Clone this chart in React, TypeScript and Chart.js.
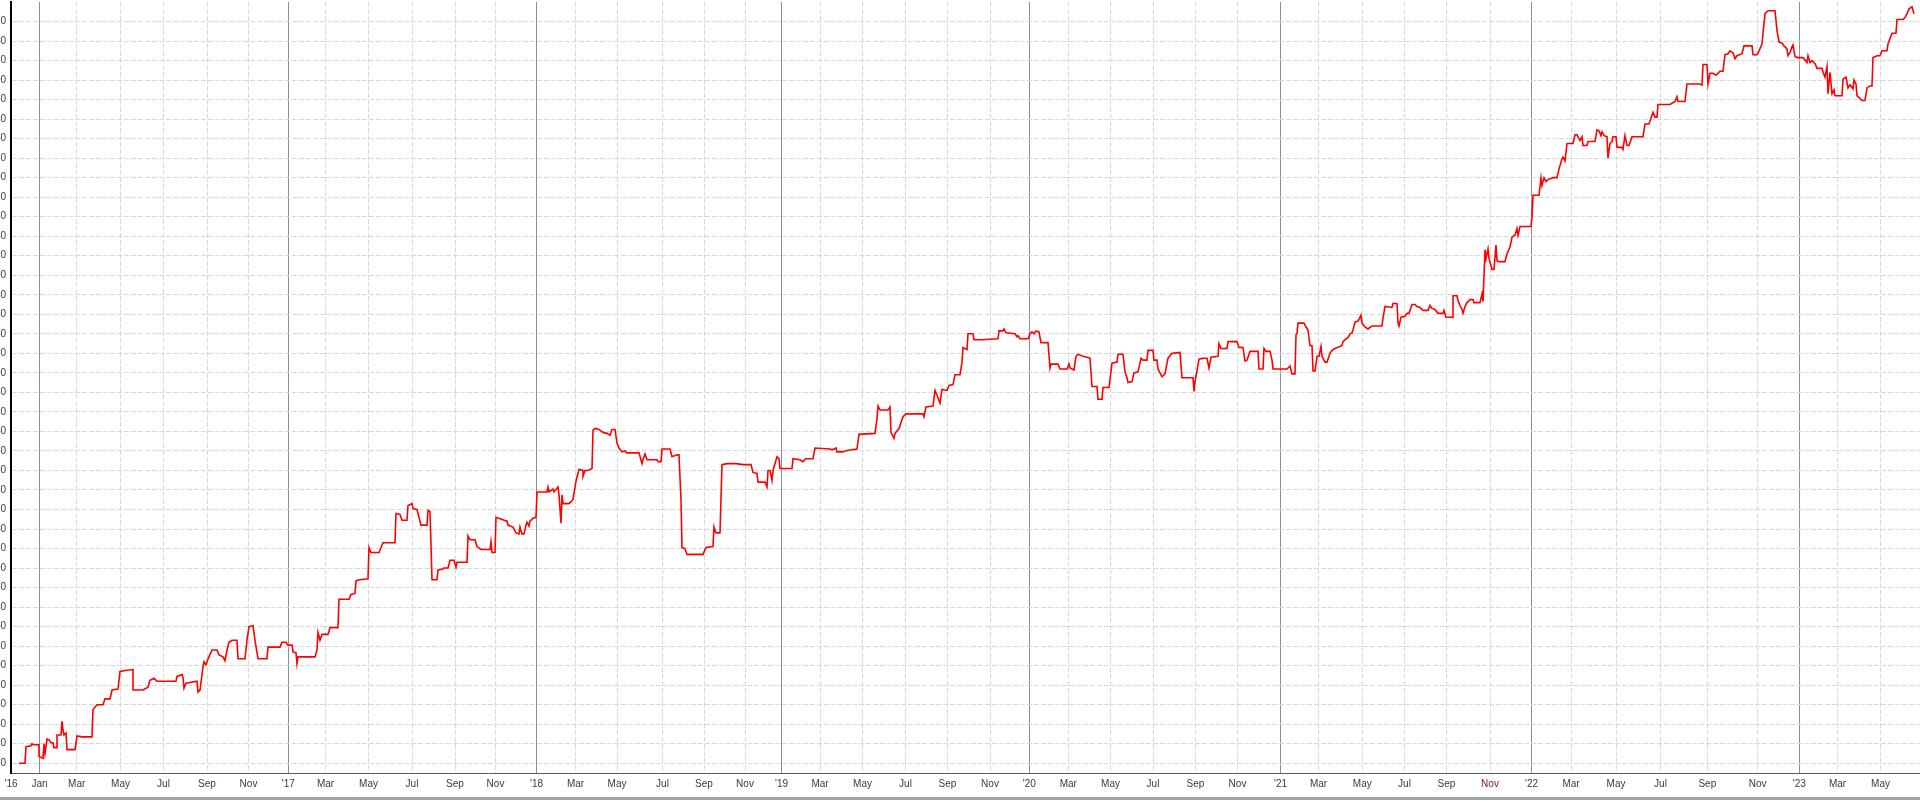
import { useEffect, useRef } from "react";
import { Chart, registerables } from "chart.js";

Chart.register(...registerables);

// x axis: trading-session index from the start of the axis
const tickSessions = [
  0, 28.5, 65.7, 109.5, 152.5, 196, 237.5,
  277.3, 314.5, 357.5, 401, 444, 484.5,
  525.5, 564.5, 606, 651.5, 693, 734,
  770.5, 809, 851.5, 894.5, 936.5, 979,
  1018.3, 1057.3, 1099.5, 1142, 1184.5, 1226.5,
  1269.5, 1307.5, 1351.3, 1393.5, 1435.5, 1479,
  1520.5, 1560, 1605, 1649.5, 1696.3, 1746.7,
  1788.3, 1826.5, 1869.5,
];
const tickLabels = [
  "'16", "Jan", "Mar", "May", "Jul", "Sep", "Nov",
  "'17", "Mar", "May", "Jul", "Sep", "Nov",
  "'18", "Mar", "May", "Jul", "Sep", "Nov",
  "'19", "Mar", "May", "Jul", "Sep", "Nov",
  "'20", "Mar", "May", "Jul", "Sep", "Nov",
  "'21", "Mar", "May", "Jul", "Sep", "Nov",
  "'22", "Mar", "May", "Jul", "Sep", "Nov",
  "'23", "Mar", "May",
];
const highlightedTickIndex = 36;
const xMin = 0;
const xMax = 1909;
const yMin = -10;
const yMax = 780;
const yTickStep = 20;
const yTickTop = 760;

// [session, value]
const y2016 = [
  [8,0],[14,0],[15,17],[20,18],[21,20],[22,19],[28,19],[28,7],[32,5],[33,20],[34,10],[36,25],[38,24],[40,21],[42,21],[43,16],[46,16],[46,29],[50,29],[51,43],[52,34],[53,29],[55,31],[56,14],[64,14],[66,28],[71,27],[72,27],[81,27],[82,55],[86,60],[92,60],[94,66],[99,66],[101,75],[107,76],[109,94],[114,95],[122,96],[122,75],[132,75],[137,78],[139,85],[143,87],[146,84],[156,84],[165,84],[166,89],[171,91],[172,88],[173,77],[175,82],[186,84],[187,73],[189,75],[192,99],[193,104],[195,101],[197,107],[201,116],[206,116],[208,111],[212,109],[214,105],[216,116],[218,124],[221,126],[226,126],[227,107],[234,107],[236,126],[238,140],[242,141],[244,126],[247,107],[256,107],[257,119],[269,119],[271,124],[275,124],
];
const y2017 = [
  [277,121],[281,121],[282,114],[285,113],[286,102],[287,109],[290,109],[304,109],[306,116],[307,134],[309,126],[311,132],[317,132],[319,139],[327,139],[328,168],[338,168],[340,173],[344,174],[345,187],[349,188],[357,189],[358,221],[360,216],[368,216],[372,226],[384,226],[385,256],[389,255],[391,249],[396,249],[397,264],[401,266],[402,261],[406,260],[410,244],[416,244],[417,259],[419,258],[420,224],[421,188],[426,188],[427,198],[432,199],[433,200],[437,200],[439,208],[443,208],[445,201],[446,206],[456,206],[457,233],[459,229],[464,229],[466,222],[470,219],[479,219],[480,227],[481,216],[484,216],[485,252],[496,248],[497,244],[502,242],[505,236],[508,235],[509,242],[511,235],[513,235],[515,244],[516,247],[518,243],[519,248],[522,251],[525,252],
];
const y2018 = [
  [526,278],[536,278],[537,283],[538,278],[542,281],[543,278],[547,283],[548,275],[550,246],[551,275],[552,266],[558,266],[562,270],[565,289],[568,301],[572,300],[572,294],[574,300],[577,300],[581,302],[582,341],[584,343],[588,342],[592,339],[596,338],[599,336],[601,342],[604,342],[606,328],[608,323],[611,319],[614,320],[616,318],[628,318],[631,307],[632,311],[634,317],[636,311],[646,311],[647,309],[650,309],[651,322],[659,322],[661,314],[666,316],[668,316],[670,270],[671,221],[674,220],[676,214],[692,214],[695,221],[702,222],[703,242],[705,236],[709,236],[711,306],[716,307],[725,307],[732,306],[740,306],[742,298],[746,297],[747,288],[754,288],[756,283],[757,300],[759,300],[761,290],[762,300],[766,314],[768,312],[769,302],
];
const y2019 = [
  [781,302],[782,312],[789,311],[792,309],[795,312],[802,312],[804,323],[819,322],[821,321],[825,323],[826,319],[832,319],[834,320],[839,321],[846,322],[848,337],[864,338],[866,353],[867,366],[869,362],[877,362],[879,365],[880,339],[883,333],[884,338],[888,343],[892,355],[895,358],[912,358],[913,355],[915,365],[922,366],[924,382],[926,377],[929,369],[931,383],[936,382],[938,387],[942,388],[944,398],[949,398],[951,411],[952,426],[956,424],[957,440],[962,440],[963,434],[971,434],[987,435],[988,443],[992,443],[993,445],[995,441],[1004,440],[1006,437],[1007,438],[1009,435],[1017,435],
];
const y2020 = [
  [1019,440],[1021,442],[1023,440],[1025,443],[1028,442],[1030,431],[1037,431],[1039,405],[1040,409],[1047,409],[1049,404],[1056,404],[1058,409],[1059,405],[1063,403],[1065,417],[1067,419],[1072,417],[1076,416],[1079,415],[1081,386],[1086,386],[1087,373],[1091,373],[1092,385],[1098,385],[1101,410],[1106,411],[1107,419],[1112,419],[1114,401],[1116,395],[1117,390],[1121,391],[1123,400],[1127,401],[1130,415],[1132,413],[1136,413],[1137,423],[1142,423],[1143,413],[1146,413],[1147,404],[1151,396],[1154,399],[1157,415],[1161,420],[1169,421],[1171,395],[1182,395],[1183,381],[1184,391],[1186,402],[1188,414],[1192,415],[1196,415],[1198,405],[1200,416],[1207,417],[1208,430],[1210,425],[1216,425],[1217,432],[1226,432],[1228,426],[1232,426],[1234,412],[1236,413],[1239,422],[1247,422],[1248,404],[1252,404],[1253,425],[1255,422],[1259,422],[1261,413],[1262,404],[1268,404],
];
const y2021 = [
  [1276,404],[1279,407],[1281,399],[1284,399],[1285,439],[1286,440],[1287,451],[1293,451],[1295,447],[1297,444],[1299,428],[1301,428],[1302,402],[1304,402],[1306,417],[1308,417],[1310,427],[1311,417],[1312,415],[1314,411],[1316,411],[1319,420],[1321,423],[1324,425],[1329,427],[1331,428],[1332,432],[1334,434],[1337,436],[1339,440],[1341,441],[1342,444],[1344,452],[1347,453],[1350,459],[1351,451],[1354,447],[1357,445],[1361,448],[1371,448],[1372,456],[1374,468],[1381,467],[1382,471],[1386,471],[1387,451],[1388,448],[1390,457],[1394,458],[1396,461],[1398,461],[1401,470],[1404,470],[1406,468],[1409,467],[1412,464],[1417,464],[1419,469],[1421,466],[1424,465],[1427,461],[1432,461],[1433,464],[1435,457],[1442,457],[1442,479],[1446,479],[1447,474],[1449,469],[1451,465],[1452,461],[1454,468],[1456,472],[1459,475],[1462,475],[1463,472],[1469,472],[1471,481],[1472,473],[1474,526],[1475,517],[1477,527],[1478,517],[1481,506],[1483,506],[1485,531],[1486,515],[1487,514],[1494,514],[1496,522],[1499,529],[1501,539],[1504,541],[1506,548],[1507,541],[1509,550],[1520,550],
];
const y2022 = [
  [1521,560],[1522,582],[1528,582],[1530,600],[1531,592],[1533,600],[1535,596],[1537,598],[1542,600],[1546,600],[1548,609],[1551,619],[1552,621],[1554,617],[1556,635],[1562,635],[1564,644],[1566,644],[1569,638],[1571,642],[1572,633],[1576,633],[1577,637],[1584,637],[1586,649],[1588,648],[1590,643],[1591,647],[1593,643],[1596,642],[1597,620],[1599,635],[1601,637],[1602,642],[1605,642],[1606,631],[1611,631],[1612,629],[1614,643],[1616,633],[1618,633],[1621,642],[1626,642],[1632,642],[1634,655],[1638,655],[1641,664],[1642,667],[1644,662],[1646,662],[1647,675],[1659,675],[1664,678],[1666,683],[1667,678],[1674,678],[1676,696],[1689,696],[1691,695],[1692,716],[1696,716],[1697,696],[1699,707],[1702,707],[1705,705],[1709,709],[1712,709],[1714,726],[1717,727],[1719,730],[1722,728],[1724,722],[1726,725],[1731,727],[1733,735],[1741,735],[1742,726],[1746,726],[1748,730],[1751,737],[1752,748],[1754,768],[1757,771],[1764,771],[1766,751],[1768,739],[1771,738],[1773,735],[1776,732],[1777,725],[1779,728],[1781,734],[1782,736],[1784,724],[1787,723],
];
const y2023 = [
  [1792,723],[1796,718],[1797,725],[1799,718],[1801,720],[1804,717],[1806,712],[1811,712],[1812,708],[1814,703],[1816,714],[1817,686],[1819,708],[1821,686],[1823,690],[1824,684],[1831,684],[1832,701],[1835,703],[1837,692],[1839,695],[1842,691],[1843,700],[1845,696],[1846,684],[1851,679],[1854,679],[1856,692],[1859,694],[1861,694],[1862,723],[1866,725],[1869,725],[1871,730],[1876,730],[1877,737],[1881,748],[1883,748],[1885,748],[1886,762],[1892,762],[1894,764],[1896,768],[1898,773],[1901,775],[1903,768],
];

const FONT = "'Liberation Sans Narrow', 'Liberation Sans', Arial, sans-serif";
const LABEL_COLOR = "#333b4f";

function isYearTick(index: number): boolean {
  const l = tickLabels[index];
  if (index === 0) return false;
  return l === "Jan" || l.startsWith("'");
}

export default function App() {
  const ref = useRef<HTMLCanvasElement | null>(null);

  useEffect(() => {
    if (!ref.current) return;
    const all = [...y2016, ...y2017, ...y2018, ...y2019, ...y2020, ...y2021, ...y2022, ...y2023];
    const data = all.map(([x, y]) => ({ x, y }));
    const yTicks: number[] = [];
    for (let v = 0; v <= yTickTop; v += yTickStep) yTicks.push(v);

    const chart = new Chart(ref.current, {
      type: "line",
      data: {
        datasets: [
          {
            data,
            borderColor: "#ff0000",
            borderWidth: 1.6,
            pointRadius: 0,
            tension: 0,
            fill: false,
          },
        ],
      },
      options: {
        animation: false,
        responsive: false,
        maintainAspectRatio: false,
        layout: { padding: { top: 2, right: 0, bottom: 0, left: 0 } },
        plugins: { legend: { display: false }, tooltip: { enabled: false } },
        scales: {
          x: {
            type: "linear",
            min: xMin,
            max: xMax,
            afterBuildTicks: (s: any) => {
              s.ticks = tickSessions.map((v) => ({ value: v }));
            },
            afterFit: (s: any) => {
              s.height = 29;
              s.paddingLeft = 0;
              s.paddingRight = 0;
            },
            ticks: {
              autoSkip: false,
              maxRotation: 0,
              minRotation: 0,
              padding: 5,
              font: { family: FONT, size: 10 },
              color: (ctx: any) => (ctx.index === highlightedTickIndex ? "#7a1414" : LABEL_COLOR),
              callback: (_v: any, i: number) => tickLabels[i],
            },
            grid: {
              drawTicks: false,
              lineWidth: 1,
              color: (ctx: any) => {
                if (ctx.index === 0) return "rgba(0,0,0,0)";
                return isYearTick(ctx.index) ? "#8e8e8e" : "#d9d9d9";
              },
            },
            border: {
              color: "#5a5a5a",
              width: 1,
              dash: (ctx: any) => (ctx.tick && !isYearTick(ctx.index) ? [5, 2] : []),
            },
          },
          y: {
            type: "linear",
            min: yMin,
            max: yMax,
            afterBuildTicks: (s: any) => {
              s.ticks = yTicks.map((v) => ({ value: v }));
            },
            afterFit: (s: any) => {
              s.width = 50;
              s.paddingTop = 0;
              s.paddingBottom = 0;
            },
            ticks: {
              padding: 5,
              font: { family: FONT, size: 10 },
              color: LABEL_COLOR,
              callback: (v: any) => String(v),
            },
            grid: {
              drawTicks: false,
              lineWidth: 1,
              color: "#d9d9d9",
            },
            border: {
              color: "#000000",
              width: 2,
              dash: (ctx: any) => (ctx.tick ? [5, 2] : []),
            },
          },
        },
      },
    } as any);
    return () => chart.destroy();
  }, []);

  return (
    <div
      style={{
        position: "fixed",
        left: 0,
        top: 0,
        width: 1920,
        height: 802,
        overflow: "hidden",
        background: "#ffffff",
      }}
    >
      <canvas
        ref={ref}
        width={1959}
        height={802}
        style={{ position: "absolute", left: -39, top: 0, width: 1959, height: 802 }}
      />
      <div
        style={{
          position: "absolute",
          left: 0,
          top: 797,
          width: 1920,
          height: 3,
          background: "#a3a3a3",
        }}
      />
    </div>
  );
}
